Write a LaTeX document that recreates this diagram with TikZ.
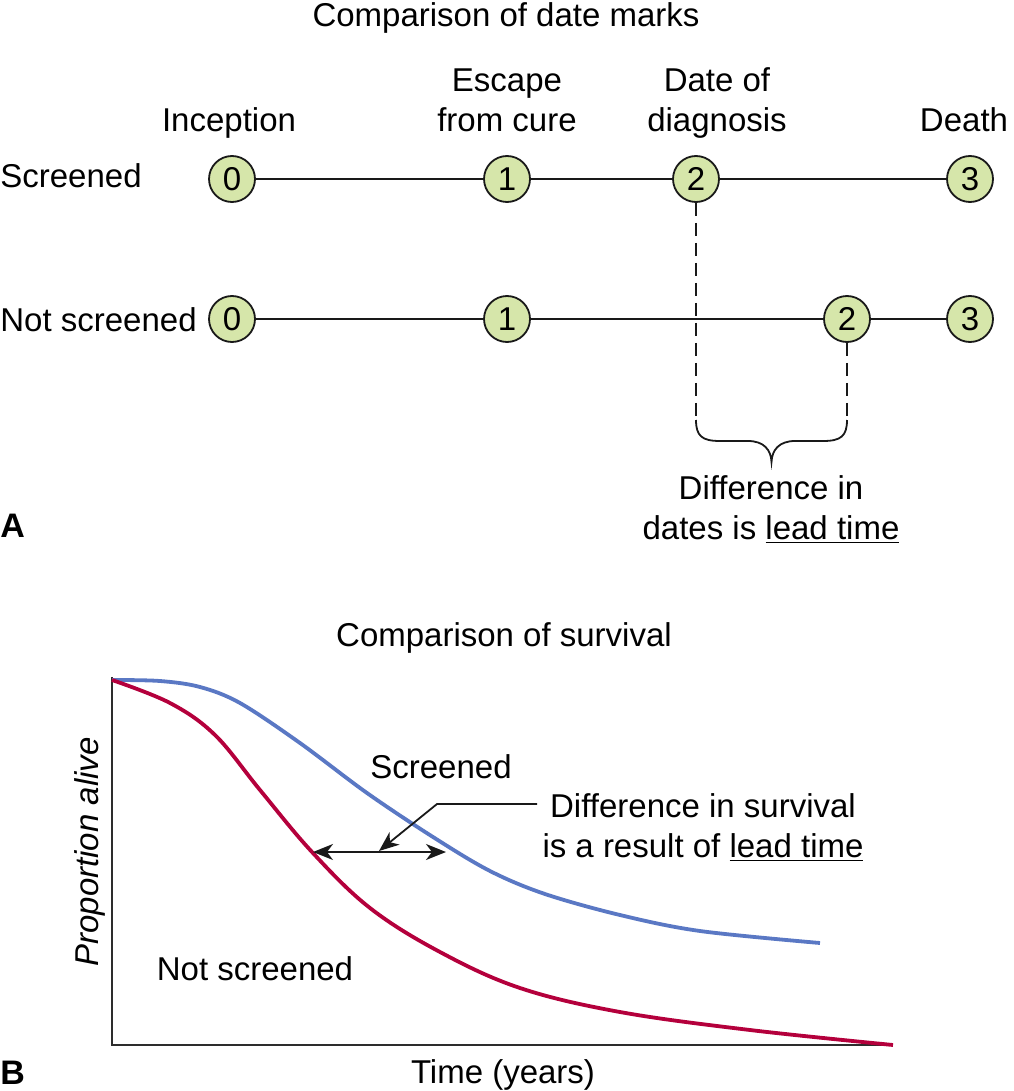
\documentclass[tikz,border=0pt]{standalone}
\usepackage{fontspec}
\setmainfont{Liberation Sans}
\usetikzlibrary{arrows.meta}
\definecolor{nodefill}{RGB}{214,230,170}
\definecolor{scrblue}{RGB}{90,120,196}
\definecolor{nsred}{RGB}{180,0,60}
\definecolor{axisgray}{RGB}{45,45,45}
\begin{document}
\begin{tikzpicture}[x=0.5pt,y=-0.5pt,
  font=\fontsize{16.5}{20}\selectfont,
  datemark/.style={circle,draw=black!90,line width=0.9pt,fill=nodefill,minimum size=23pt,inner sep=0pt},
  txt/.style={inner sep=0pt,align=center,anchor=base},
  conn/.style={line width=0.9pt,black!90},
  dashconn/.style={line width=0.8pt,black!90,dash pattern=on 6.5pt off 3.5pt},
  curve/.style={line width=1.9pt},
  tip/.style={-{Stealth[length=10pt,width=8pt,inset=3pt]}},
  dtip/.style={{Stealth[length=10pt,width=8pt,inset=3pt]}-{Stealth[length=10pt,width=8pt,inset=3pt]}},
  panel/.style={inner sep=0pt,anchor=base west,font=\fontsize{17}{20}\selectfont\bfseries}]
\useasboundingbox (0,0) rectangle (1013,1091);

% ---------- Panel A ----------
\node[txt] (titleA) at (506,27) {Comparison of date marks};
\node[txt] (lincep) at (229,132) {Inception};
\node[txt] (lesc) at (507,132) {Escape\\from cure};
\node[txt] (ldiag) at (717,132) {Date of\\diagnosis};
\node[txt] (ldeath) at (964,132) {Death};
\node[txt,anchor=base west] (lscr) at (0,188) {Screened};
\node[txt,anchor=base west] (lnscr) at (0,331) {Not screened};

\node[datemark] (a0) at (232,179) {0};
\node[datemark] (a1) at (507,179) {1};
\node[datemark] (a2) at (696,179) {2};
\node[datemark] (a3) at (970,179) {3};
\node[datemark] (b0) at (232,319) {0};
\node[datemark] (b1) at (507,319) {1};
\node[datemark] (b2) at (847,319) {2};
\node[datemark] (b3) at (970,319) {3};

\draw[conn] (a0) -- (a1);
\draw[conn] (a1) -- (a2);
\draw[conn] (a2) -- (a3);
\draw[conn] (b0) -- (b1);
\draw[conn] (b1) -- (b2);
\draw[conn] (b2) -- (b3);

\coordinate (brl) at (696,420);
\coordinate (brr) at (847,420);
\draw[dashconn] (a2.south) -- (brl);
\draw[dashconn] (b2.south) -- (brr);
\draw[conn] (brl) .. controls (696,436) and (702,441) .. (720,441) -- (748,441)
  .. controls (764,441) and (771,450) .. (771.5,462)
  .. controls (772,450) and (779,441) .. (795,441) -- (823,441)
  .. controls (841,441) and (847,436) .. (brr);

\node[txt] (leadA) at (771,539) {Difference in\\dates is \underline{lead time}};
\node[panel] (pA) at (0,537) {A};

% ---------- Panel B ----------
\node[txt] (titleB) at (504,646) {Comparison of survival};
\coordinate (org) at (112,1045);
\coordinate (ytop) at (112,677);
\coordinate (xend) at (893,1045);
\draw[line width=0.9pt,axisgray] (ytop) -- (org) -- (xend);

\draw[curve,scrblue] plot[smooth,tension=0.55] coordinates {
  (112,680) (160,681) (200,687) (240,703) (300,743) (367,793) (433,837)
  (490,871) (545,894) (620,915) (700,931) (820,943)};
\draw[curve,nsred] plot[smooth,tension=0.6] coordinates {
  (112,680) (170,703) (215,735) (260,790) (312,852) (370,908) (440,952)
  (520,988) (620,1012) (750,1030) (893,1045)};

\coordinate (dl) at (313,852);
\coordinate (dr) at (446,852);
\draw[conn,dtip] (dl) -- (dr);
\coordinate (ptrend) at (379,851);
\node[txt] (lscrB) at (441,778) {Screened};
\node[txt] (lnscrB) at (255,980) {Not screened};
\node[txt] (leadB) at (703,857) {Difference in survival\\is a result of \underline{lead time}};
\coordinate (ptr) at (537,804);
\draw[conn,tip] (ptr) -- (437,804) -- (ptrend);

\node[inner sep=0pt,rotate=90,font=\fontsize{16.5}{20}\selectfont\itshape] (ylab) at (90,852) {Proportion alive};
\node[txt] (xlab) at (503,1083) {Time (years)};
\node[panel] (pB) at (0,1084) {B};
\end{tikzpicture}
\end{document}
